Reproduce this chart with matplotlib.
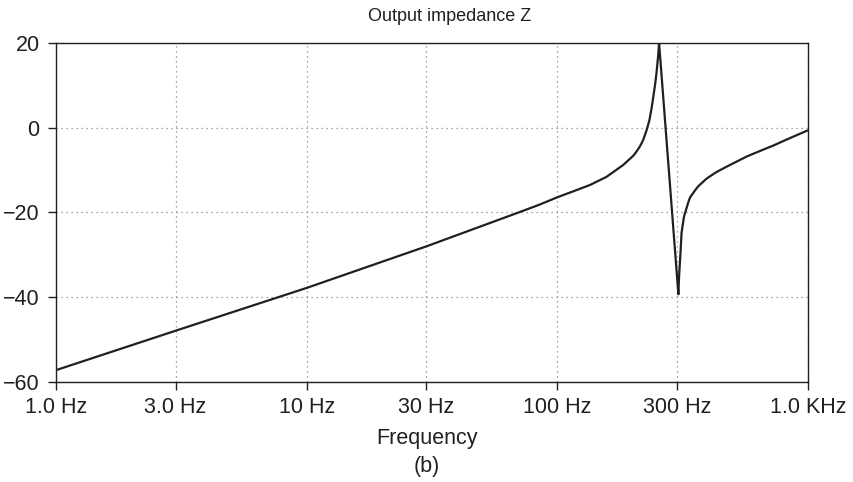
import matplotlib
matplotlib.use("Agg")
import matplotlib.pyplot as plt

plt.rcParams['font.family'] = ['Liberation Sans', 'DejaVu Sans']

# Frequency (Hz) and impedance (dB)
freq = [1.0, 3.0, 10.0, 30.0, 70.0, 85.3, 100.0, 115.8, 135.0, 157.0, 183.0,
        201.0, 207.0, 214.0, 220.0, 227.0, 233.0, 238.0, 241.5, 245.6, 248.5, 250.8, 253.0, 254.6,
        304.0, 306.0, 310.0, 313.0, 320.0, 333.0, 338.0, 354.0, 365.0, 394.0, 430.0, 473.0,
        569.0, 624.0, 727.0, 850.0, 1000.0]
z_db = [-57.2, -47.9, -37.8, -28.0, -20.0, -18.1, -16.4, -15.0, -13.5, -11.6, -8.8,
        -6.6, -5.6, -4.3, -2.9, -0.6, 1.8, 4.8, 7.3, 10.3, 12.8, 15.2, 17.6, 20.0,
        -39.3, -35.0, -29.5, -24.8, -21.0, -17.6, -16.5, -14.8, -13.8, -12.0, -10.5, -9.2,
        -6.8, -5.8, -4.2, -2.4, -0.6]

xticks = [1, 3, 10, 30, 100, 300, 1000]
xticklabels = ["1.0 Hz", "3.0 Hz", "10 Hz", "30 Hz", "100 Hz", "300 Hz", "1.0 KHz"]
yticks = [-60, -40, -20, 0, 20]

W, H = 854, 482
fig = plt.figure(figsize=(W/100, H/100), dpi=100)
ax = fig.add_axes([56/W, 1-382/H, (808-56)/W, (382-43)/H])

ax.plot(freq, z_db, color='#231f20', lw=1.6, solid_joinstyle='round', solid_capstyle='butt')
ax.set_xscale('log')
ax.set_xlim(1, 1000)
ax.set_ylim(-60, 20)
ax.set_xticks(xticks)
ax.set_xticklabels(xticklabels)
ax.minorticks_off()
ax.set_yticks(yticks)
ax.tick_params(direction='out', length=5.8, width=1, labelsize=15.5, colors='#231f20')
ax.tick_params(axis='x', pad=5)
ax.tick_params(axis='y', pad=6)
ax.grid(True, linestyle=(0, (1, 3)), color='#888888', lw=0.9)
for s in ax.spines.values():
    s.set_color('#231f20')
    s.set_linewidth(1.0)

fig.text(450/W, 1-21/H, "Output impedance Z", ha='center', va='baseline', fontsize=13, color='#231f20')
fig.text(427/W, 1-444/H, "Frequency", ha='center', va='baseline', fontsize=15.5, color='#231f20')
fig.text(427/W, 1-472/H, "(b)", ha='center', va='baseline', fontsize=15.5, color='#231f20')

fig.savefig("out.png", dpi=100)
